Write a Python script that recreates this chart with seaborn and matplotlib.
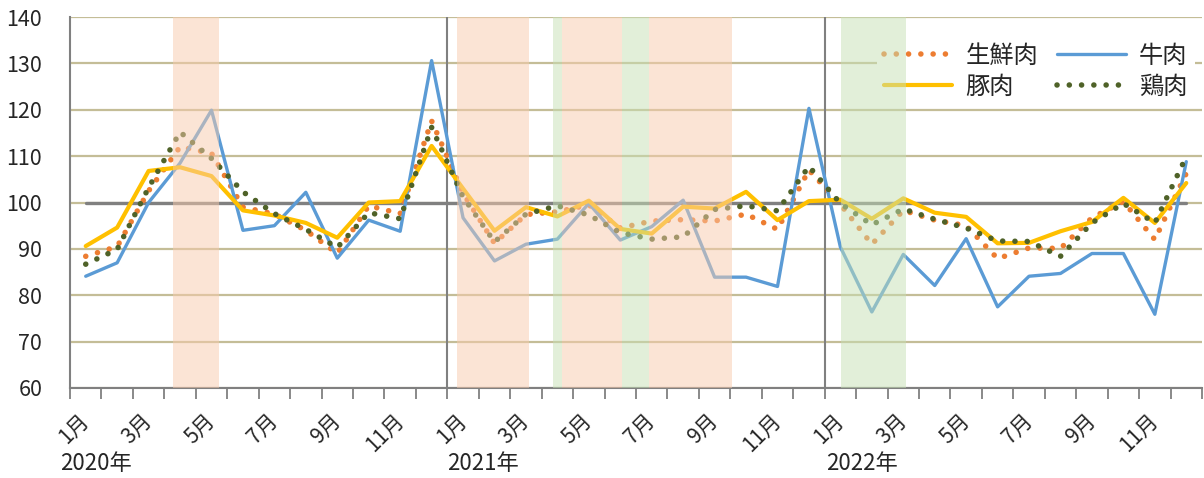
import numpy as np
import pandas as pd
import matplotlib
matplotlib.use("Agg")
import matplotlib.pyplot as plt
import matplotlib.transforms as mtransforms
from matplotlib.lines import Line2D
import seaborn as sns

# ---------------- data ----------------
years = ["2020年", "2021年", "2022年"]
months = list(range(1, 13))
month_labels = [f"{m}月" if m % 2 == 1 else "" for m in months] * 3

fresh_meat = [88.4, 90.5, 102.5, 112.0, 110.6, 99.0, 97.5, 94.0, 89.0, 99.3, 97.6, 117.6,
              102.0, 91.2, 97.4, 98.0, 99.5, 94.5, 96.0, 96.3, 96.0, 97.5, 94.2, 107.0,
              99.6, 91.0, 98.3, 96.2, 95.0, 87.9, 90.2, 90.1, 96.7, 100.2, 92.0, 106.3]
beef = [84.1, 87.0, 100.0, 108.5, 119.9, 94.0, 95.0, 102.2, 88.0, 96.2, 93.8, 130.6,
        96.7, 87.4, 91.0, 92.1, 99.8, 91.9, 94.8, 100.5, 83.9, 83.9, 81.9, 120.3,
        90.4, 76.4, 88.8, 82.1, 92.2, 77.5, 84.1, 84.7, 89.0, 89.0, 75.9, 108.8]
pork = [90.6, 94.6, 106.8, 107.6, 105.7, 98.3, 97.2, 95.6, 92.4, 100.0, 100.3, 112.2,
        103.0, 93.9, 99.0, 97.0, 100.4, 94.3, 93.3, 99.1, 98.7, 102.3, 96.2, 100.3,
        100.6, 96.5, 100.9, 97.8, 96.9, 91.2, 91.3, 93.8, 95.8, 101.0, 95.6, 104.2]
chicken = [86.7, 89.9, 103.2, 115.2, 109.5, 102.3, 97.6, 94.2, 90.3, 97.8, 96.5, 116.2,
           101.2, 91.5, 97.5, 99.3, 97.3, 93.5, 92.1, 92.6, 98.5, 99.3, 98.2, 107.8,
           99.8, 95.2, 98.6, 96.4, 94.5, 91.7, 91.6, 88.4, 95.6, 99.8, 95.6, 109.9]
reference_value = 100

# periods (in months from Jan 2020): states of emergency / priority measures
emergency_periods = [(3.27, 4.75), (12.30, 14.60), (15.66, 17.56), (18.40, 21.04)]
priority_periods = [(15.35, 15.66), (17.56, 18.40), (24.51, 26.58)]

# ---------------- styles ----------------
c_fresh = "#ED7D31"
c_beef = "#5B9BD5"
c_pork = "#FFC000"
c_chicken = "#4F6228"
c_grid = "#C4BD97"
c_axis = "#808080"

sns.set_style("white")
plt.rcParams["font.family"] = ["Noto Sans CJK JP", "DejaVu Sans"]

n = len(beef)
x = np.arange(n)
df = pd.DataFrame({"x": x, "生鮮肉": fresh_meat, "牛肉": beef, "豚肉": pork, "鶏肉": chicken,
                   "ref": [reference_value] * n})

W, H = 1204, 478
fig = plt.figure(figsize=(W / 100, H / 100), dpi=100)
ax = fig.add_axes([70 / W, 1 - 388 / H, (1202 - 70) / W, (388 - 17) / H])

dot_lw = 4.0
dot_style = (0, (0.01, 2.2))

sns.lineplot(data=df, x="x", y="ref", ax=ax, color=c_axis, lw=2.4, zorder=2, legend=False)
sns.lineplot(data=df, x="x", y="生鮮肉", ax=ax, color=c_fresh, lw=dot_lw, linestyle=dot_style,
             dash_capstyle="round", zorder=3, legend=False)
sns.lineplot(data=df, x="x", y="牛肉", ax=ax, color=c_beef, lw=2.4, zorder=3, legend=False)
sns.lineplot(data=df, x="x", y="豚肉", ax=ax, color=c_pork, lw=3.0, zorder=3, legend=False)
sns.lineplot(data=df, x="x", y="鶏肉", ax=ax, color=c_chicken, lw=dot_lw, linestyle=dot_style,
             dash_capstyle="round", zorder=3, legend=False)

# shaded periods (drawn semi-transparent over lines)
for s, e in emergency_periods:
    ax.axvspan(s - 0.5, e - 0.5, color="#F8CBAD", alpha=0.5, lw=0, zorder=8)
for s, e in priority_periods:
    ax.axvspan(s - 0.5, e - 0.5, color="#C6E0B4", alpha=0.5, lw=0, zorder=8)

# year separators
for b in [12, 24]:
    ax.axvline(b - 0.5, color=c_axis, lw=1.5, zorder=2.5)

ax.set_xlim(-0.5, n - 0.5)
ax.set_ylim(60, 140)
ax.set_yticks(np.arange(60, 141, 10))
ax.yaxis.grid(True, color=c_grid, lw=1.6, zorder=1)
ax.xaxis.grid(False)
ax.set_axisbelow(True)

ax.set_xticks(x)
ax.set_xticklabels(month_labels, rotation=45, ha="right", va="center", rotation_mode="anchor",
                   fontsize=15)
ax.set_xticks(np.arange(-0.5, n, 1), minor=True)
ax.tick_params(axis="x", which="major", length=0, pad=21)
ax.tick_params(axis="x", which="minor", length=8, width=1.3, color=c_axis, direction="out",
               bottom=True)
ax.tick_params(axis="y", length=0, pad=20, labelsize=15.5)
ax.set_xlabel("")
ax.set_ylabel("")

for sp in ["top", "right"]:
    ax.spines[sp].set_visible(False)
for sp in ["left", "bottom"]:
    ax.spines[sp].set_color(c_axis)
    ax.spines[sp].set_linewidth(1.5)

# year labels
trans = mtransforms.blended_transform_factory(ax.transData, fig.transFigure)
for xpos, yl in zip([-0.82, 11.49, 23.54], years):
    ax.text(xpos, 1 - 464 / H, yl, transform=trans, ha="left", va="center", fontsize=16)

# legend
handles = [
    Line2D([], [], color=c_fresh, lw=dot_lw, linestyle=dot_style, dash_capstyle="round"),
    Line2D([], [], color=c_pork, lw=3.0),
    Line2D([], [], color=c_beef, lw=2.4),
    Line2D([], [], color=c_chicken, lw=dot_lw, linestyle=dot_style, dash_capstyle="round"),
]
labels = ["生鮮肉", "豚肉", "牛肉", "鶏肉"]
leg = ax.legend(handles, labels, ncol=2, loc="upper right", bbox_to_anchor=(1.0, 0.97),
                fontsize=17.5, frameon=True, facecolor="white", edgecolor="none",
                framealpha=1, fancybox=False, handlelength=2.8, handletextpad=0.55,
                columnspacing=0.8, labelspacing=0.2, borderpad=0.3, borderaxespad=0.3)
leg.set_zorder(5)

fig.savefig("out.png", dpi=100)
